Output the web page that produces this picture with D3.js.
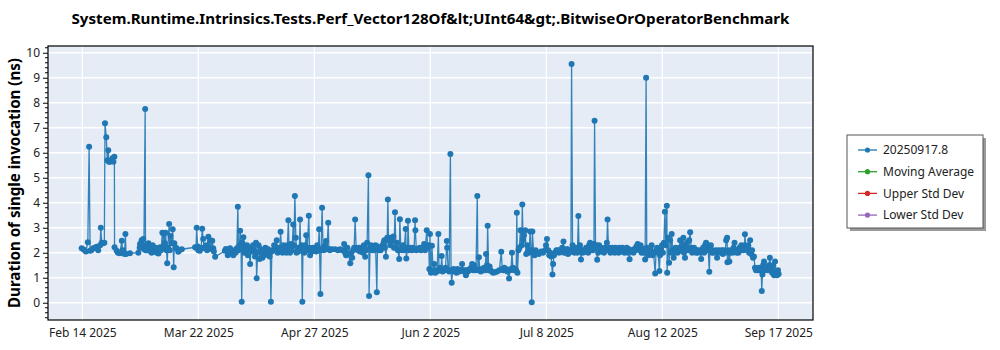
<!DOCTYPE html>
<html>
<head>
<meta charset="utf-8">
<script src="https://cdn.jsdelivr.net/npm/d3@7"></script>
<style>
  html, body { margin: 0; padding: 0; background: #ffffff; }
  svg { display: block; font-family: "Segoe UI", "Noto Sans", "Open Sans", sans-serif; }
</style>
</head>
<body>
<svg id="chart" width="1000" height="350"></svg>
<script>
// Benchmark run history: [days since Feb 14 2025, duration in ns]
const startDate = new Date(2025, 1, 14);
const samples = [
  [0.7,2.18],[1.4,2.12],[2.0,2.05],[2.6,2.42],[3.0,6.24],[3.3,2.08],[3.7,2.1],[4.3,2.18],[4.8,2.2],[5.3,2.24],
  [5.8,2.1],[6.4,2.3],[6.6,3.0],[6.9,2.4],[7.3,2.38],[7.7,2.4],[7.9,7.18],[8.3,6.62],[8.6,5.7],[8.9,6.1],
  [9.1,5.64],[9.4,5.64],[10.0,5.7],[10.2,5.78],[10.5,5.64],[10.8,5.84],[10.85,2.22],[11.5,2.08],[11.9,2.0],[12.2,2.0],
  [12.5,1.98],[13.1,2.48],[13.3,2.1],[13.5,2.08],[13.9,1.95],[14.2,2.75],[14.4,1.95],[15.6,1.98],[18.2,2.0],[18.6,2.2],
  [18.7,2.35],[19.2,2.5],[19.5,2.3],[19.7,2.55],[19.9,2.15],[20.3,7.75],[20.4,2.1],[20.8,2.1],[21.0,2.3],[21.3,2.38],
  [21.5,2.2],[21.8,2.24],[22.0,2.05],[22.3,2.0],[22.6,2.3],[22.8,2.18],[23.0,2.1],[23.3,2.08],[23.6,2.2],[23.9,2.0],
  [24.4,1.97],[24.9,2.22],[25.2,2.1],[25.6,2.8],[25.8,2.2],[26.1,2.76],[26.4,2.38],[26.6,2.8],[26.9,2.1],[27.1,1.58],
  [27.3,2.2],[27.7,3.15],[27.9,2.1],[28.1,2.67],[28.5,2.38],[28.8,2.94],[29.1,1.42],[29.3,2.38],[29.7,2.2],[30.0,2.18],
  [30.5,2.04],[30.9,2.1],[31.6,2.14],
  [35.7,2.22],[36.0,2.2],[36.2,3.0],[36.5,2.25],[36.7,2.1],[36.9,2.15],[37.2,2.08],[37.6,2.2],[37.9,2.96],[38.2,2.55],
  [38.5,2.2],[38.8,2.18],[39.1,2.3],[39.4,2.1],[39.8,2.64],[40.0,2.2],[40.3,2.5],[40.6,2.15],[41.0,2.48],[41.3,2.18],
  [41.5,2.05],[41.9,1.84],
  [44.9,2.08],[45.2,2.15],[45.8,1.9],[46.2,2.1],[46.5,2.18],[46.9,2.0],[47.5,1.9],[47.9,2.1],[48.2,2.0],[48.6,2.18],
  [48.9,3.84],[49.1,2.1],[49.4,2.3],[49.6,2.88],[49.9,2.2],[50.1,0.04],[50.3,2.4],[50.6,2.62],[50.8,2.0],[51.1,2.2],
  [51.4,2.1],[51.7,2.3],[52.0,1.9],[52.3,2.15],[52.7,1.55],[53.0,2.2],[53.3,2.05],[53.6,2.3],[53.9,2.1],[54.2,1.85],
  [54.5,2.4],[54.7,0.98],[55.0,2.0],[55.3,2.3],[55.6,1.75],[55.9,2.15],[56.2,2.0],[56.5,1.8],[56.8,2.1],[57.1,1.9],
  [57.4,2.2],[57.7,2.0],[58.1,2.15],[58.4,2.0],[58.7,1.85],[58.9,2.1],[59.1,0.04],[59.4,2.05],[59.8,2.1],[60.1,2.3],
  [60.4,2.2],[60.9,2.5],[61.2,2.0],[61.5,2.2],[61.8,2.1],[62.1,2.84],[62.4,2.1],[62.7,2.0],[63.0,2.3],[63.3,2.05],
  [63.6,2.2],[63.9,2.0],[64.2,2.3],[64.5,3.3],[64.7,2.2],[65.0,2.0],[65.3,2.35],[65.6,2.1],[66.0,3.13],[66.2,2.3],
  [66.5,4.27],[66.8,2.6],[67.0,2.0],[67.3,2.2],[67.6,2.05],[67.9,2.2],[68.1,3.33],[68.3,2.1],[68.6,2.3],[68.8,0.04],
  [69.0,2.2],[69.4,2.0],[69.7,2.3],[70.0,2.7],[70.3,2.1],[70.8,3.48],[71.0,2.2],[71.2,1.9],[71.5,2.15],[71.8,2.05],
  [72.1,2.2],[72.4,2.1],[72.8,2.14],[73.1,2.05],[73.4,2.3],[73.7,2.1],[74.0,2.94],[74.4,0.35],[74.6,2.1],[74.9,3.8],
  [75.2,2.2],[75.5,2.1],[75.8,2.3],[76.1,2.47],[76.4,2.15],[76.8,3.2],[77.0,2.15],[77.3,2.1],[77.9,2.14],[78.9,2.14],
  [79.8,2.1],[80.4,2.14],[81.1,2.1],[81.7,2.35],[82.0,2.0],[82.3,1.9],[82.7,2.2],[83.0,1.95],[83.6,1.58],[83.9,2.0],
  [84.2,1.8],[84.5,2.1],[84.8,2.2],[85.1,3.33],[85.4,2.2],[85.7,2.15],[86.0,2.1],[86.3,2.2],[86.6,2.05],[86.9,2.2],
  [87.2,2.1],[87.5,2.0],[87.8,2.3],[88.2,1.84],[88.5,2.1],[88.8,2.4],[89.2,5.1],[89.4,0.27],[89.7,2.2],[90.0,2.3],
  [90.3,2.1],[90.6,2.25],[90.9,2.1],[91.4,2.3],[91.8,0.42],[92.0,2.25],[92.3,2.1],[92.6,2.2],[93.0,2.1],[93.3,2.2],
  [93.6,2.3],[93.9,2.4],[94.1,2.5],[94.3,2.2],[94.6,1.84],[95.0,2.6],[95.2,4.13],[95.4,2.5],[95.7,2.6],[96.0,2.3],
  [96.3,2.6],[96.6,2.5],[96.9,2.65],[97.1,2.2],[97.4,3.62],[97.7,2.2],[98.0,2.4],[98.3,2.1],[98.7,1.75],[98.9,3.34],
  [99.2,2.2],[99.5,2.1],[99.9,2.3],[100.2,2.1],[100.7,2.95],[100.9,1.77],[101.3,2.2],[101.4,3.28],[101.7,2.1],[102.0,2.15],
  [102.3,2.2],[102.7,2.1],[103.0,2.2],[103.3,2.15],[103.6,3.3],[103.7,2.9],[104.0,2.1],[104.5,2.15],[105.0,2.2],[105.4,2.1],
  [105.9,2.2],[106.4,2.35],[106.7,2.1],[107.2,2.9],[107.5,2.2],[107.8,2.3],[108.0,1.35],[108.2,2.75],[108.4,1.3],[108.5,1.2],
  [108.8,2.28],[109.2,1.25],[109.5,1.55],[109.8,1.2],[110.1,1.3],[110.4,1.25],[110.8,2.75],[111.0,1.3],[111.3,1.4],[111.6,1.3],
  [111.8,1.87],[112.1,1.25],[112.4,1.3],[112.7,1.3],[113.0,1.4],[113.4,2.47],[113.5,2.2],[113.8,1.3],[114.1,1.25],[114.5,5.95],
  [114.7,1.3],[114.9,0.8],[115.2,1.3],[115.5,1.35],[115.8,1.25],[116.1,1.3],[116.4,1.2],[116.7,1.35],[117.0,1.3],[117.3,1.25],
  [117.6,1.3],[117.9,1.3],[118.1,1.55],[118.4,1.3],[118.7,1.25],[119.0,1.3],[119.3,1.1],[119.6,1.3],[119.9,1.25],[120.2,1.3],
  [120.5,1.35],[120.9,1.4],[121.2,1.55],[121.5,1.3],[121.8,1.5],[122.1,1.3],[122.4,1.35],[122.8,4.27],[123.0,1.3],[123.3,1.82],
  [123.6,1.3],[123.9,1.25],[124.2,1.35],[124.6,1.3],[124.9,1.4],[125.2,1.3],[125.5,1.95],[125.8,1.5],[126.0,3.08],[126.3,1.3],
  [126.6,1.45],[126.9,1.3],[127.2,1.25],[127.7,1.2],[128.3,1.22],[128.9,1.25],[129.6,1.3],[130.2,2.04],[130.5,1.35],[130.8,1.3],
  [131.1,1.4],[131.4,1.3],[131.7,1.35],[132.1,1.25],[132.6,0.97],[132.9,1.3],[133.2,1.35],[133.5,2.0],[133.8,1.4],[134.1,1.3],
  [134.4,1.35],[134.8,1.3],[135.0,3.6],[135.2,1.2],[135.5,2.1],[135.8,2.2],[136.1,2.9],[136.5,2.3],[136.7,3.93],[136.9,2.5],
  [137.2,2.7],[137.6,2.9],[137.9,1.95],[138.2,2.3],[138.5,2.1],[138.8,2.0],[139.1,2.85],[139.4,2.1],[139.6,0.02],[139.8,2.85],
  [140.2,2.0],[140.5,1.9],[140.8,2.1],[141.2,2.0],[141.8,1.95],[142.5,2.05],[143.1,2.0],[143.7,2.1],[144.0,2.3],[144.3,2.55],
  [144.7,2.1],[145.0,1.9],[145.3,2.0],[145.6,1.85],[146.0,1.13],[146.2,1.55],[146.5,1.9],[146.8,2.0],[147.2,2.1],[147.5,2.05],
  [147.8,2.1],[148.1,2.0],[148.4,2.1],[148.7,2.05],[149.0,2.2],[149.4,2.45],[149.6,2.0],[149.9,2.1],[150.2,2.0],[150.5,2.15],
  [150.8,1.95],[151.1,2.0],[151.4,2.1],[151.7,2.05],[151.9,9.55],[152.2,2.3],[152.5,2.1],[152.8,2.0],[153.1,2.2],[153.4,2.1],
  [153.7,2.0],[154.0,3.47],[154.2,2.2],[154.5,2.3],[154.8,1.73],[155.1,2.1],[155.4,2.0],[155.7,2.1],[156.1,2.05],[156.4,2.2],
  [156.7,2.1],[157.0,2.0],[157.3,2.3],[157.6,2.4],[157.9,2.1],[158.2,2.35],[158.5,2.1],[158.8,2.35],[159.0,7.28],[159.3,2.2],
  [159.6,2.3],[159.8,1.72],[160.1,2.0],[160.4,2.3],[160.7,2.1],[161.0,2.2],[161.3,2.05],[161.6,2.1],[161.9,2.0],[162.2,2.2],
  [162.5,2.1],[162.8,2.4],[163.0,3.33],[163.3,2.1],[163.6,2.2],[163.9,2.0],[164.2,2.05],[164.5,2.2],[164.8,2.1],[165.2,2.0],
  [165.5,2.2],[165.8,2.1],[166.1,2.15],[166.4,2.0],[166.7,2.2],[167.0,2.1],[167.3,2.05],[167.6,2.2],[167.9,2.1],[168.2,2.0],
  [168.5,2.1],[168.9,2.2],[169.2,2.0],[169.5,2.15],[169.8,1.74],[170.1,2.1],[170.4,2.05],[170.7,2.1],[171.0,2.0],[171.3,2.15],
  [171.6,2.1],[171.9,2.25],[172.3,2.35],[172.6,2.2],[172.9,2.1],[173.2,2.3],[173.5,2.0],[173.8,2.15],[174.1,2.0],[174.4,2.1],
  [174.6,1.73],[174.9,9.0],[175.1,2.2],[175.3,2.1],[175.6,1.9],[175.9,2.0],[176.3,2.1],[176.6,2.3],[176.9,1.9],[177.2,2.0],
  [177.7,1.17],[178.0,2.1],[178.3,2.2],[178.6,2.0],[179.0,1.27],[179.2,1.9],[179.5,2.1],[179.8,2.3],[180.1,2.0],[180.4,2.4],
  [180.7,3.64],[181.0,2.3],[181.3,3.88],[181.4,1.2],[181.6,2.6],[182.0,1.6],[182.3,2.5],[182.6,2.0],[182.8,2.75],[183.1,2.1],
  [183.4,1.8],[183.7,2.0],[184.0,2.2],[184.3,2.1],[184.6,2.0],[184.9,2.05],[185.2,2.2],[185.4,2.5],[185.7,2.1],[186.0,2.3],
  [186.4,2.6],[186.6,2.0],[186.9,1.8],[187.2,2.2],[187.5,2.4],[187.9,2.1],[188.2,2.5],[188.5,2.82],[188.8,2.2],[189.1,2.0],
  [189.4,2.1],[189.7,2.2],[190.0,2.1],[190.3,2.0],[190.6,2.1],[190.9,2.0],[191.2,2.1],[191.5,2.05],[191.9,1.75],[192.2,2.1],
  [192.5,2.2],[192.8,2.0],[193.1,2.3],[193.4,2.4],[193.7,2.1],[194.0,2.3],[194.4,1.24],[194.6,2.1],[194.9,2.3],[195.2,2.0],
  [195.5,2.1],[195.8,2.0],[196.2,2.05],[196.5,2.1],[196.8,1.8],[197.1,2.0],[197.4,2.1],[197.7,2.05],[198.0,2.0],[198.3,2.1],
  [198.6,1.95],[198.9,2.1],[199.3,2.0],[199.6,2.5],[199.9,2.6],[200.0,1.62],[200.3,2.1],[200.6,1.65],[200.9,2.0],[201.3,2.1],
  [201.6,2.0],[201.9,2.2],[202.2,2.4],[202.5,2.1],[202.8,2.0],[203.1,2.1],[203.4,2.0],[203.7,2.2],[204.0,2.1],[204.3,2.3],
  [204.6,2.2],[204.9,2.1],[205.3,2.3],[205.4,2.74],[205.7,2.2],[206.1,2.1],[206.4,2.3],[206.7,2.0],[207.0,2.5],[207.3,1.95],
  [207.6,2.1],[207.9,1.8],[208.2,1.85],[208.5,1.4],[208.8,1.3],[209.1,1.35],[209.4,1.3],[209.7,1.4],[210.1,1.3],[210.4,1.35],
  [210.6,0.47],[210.8,1.13],[211.0,1.5],[211.3,1.65],[211.6,1.3],[211.9,1.4],[212.2,1.35],[212.5,1.3],[212.8,1.5],[213.1,1.8],
  [213.5,1.35],[213.8,1.2],[214.1,1.5],[214.4,1.1],[214.7,1.65],[215.0,1.2],[215.3,1.1],[215.6,1.3],[215.8,1.15]
];

// Axis ticks
const yTickValues = [0, 1, 2, 3, 4, 5, 6, 7, 8, 9, 10];
const xTickDays = [0.9, 36.7, 72.5, 108.3, 144.1, 179.9, 215.7];
const xTickLabels = ["Feb 14 2025", "Mar 22 2025", "Apr 27 2025", "Jun 2 2025", "Jul 8 2025", "Aug 12 2025", "Sep 17 2025"];

// Legend entries
const legendNames = ["20250917.8", "Moving Average", "Upper Std Dev", "Lower Std Dev"];
const legendColors = ["#1f77b4", "#2ca02c", "#d62728", "#9467bd"];

const titleText = "System.Runtime.Intrinsics.Tests.Perf_Vector128Of&lt;UInt64&gt;.BitwiseOrOperatorBenchmark";
const yAxisTitle = "Duration of single invocation (ns)";

const dayMs = 24 * 3600 * 1000;
const toDate = d => new Date(startDate.getTime() + d * dayMs);

const svg = d3.select("#chart");
const plot = { left: 48, top: 46, right: 813, bottom: 320 };

const x = d3.scaleTime()
  .domain([toDate(-9.69), toDate(226.41)])
  .range([plot.left, plot.right]);
const y = d3.scaleLinear()
  .domain([-0.69, 10.27])
  .range([plot.bottom, plot.top]);

// Plot background
svg.append("rect")
  .attr("x", plot.left).attr("y", plot.top)
  .attr("width", plot.right - plot.left).attr("height", plot.bottom - plot.top)
  .attr("fill", "#e5ecf6");

// Grid lines
const grid = svg.append("g");
grid.selectAll("line.h").data(yTickValues).join("line")
  .attr("x1", plot.left).attr("x2", plot.right)
  .attr("y1", d => y(d)).attr("y2", d => y(d))
  .attr("stroke", "#ffffff").attr("stroke-width", 1.3);
grid.selectAll("line.v").data(xTickDays).join("line")
  .attr("y1", plot.top).attr("y2", plot.bottom)
  .attr("x1", d => x(toDate(d))).attr("x2", d => x(toDate(d)))
  .attr("stroke", "#ffffff").attr("stroke-width", 1.3);

// Clip series to the plot area
svg.append("clipPath").attr("id", "plotClip")
  .append("rect")
  .attr("x", plot.left).attr("y", plot.top)
  .attr("width", plot.right - plot.left).attr("height", plot.bottom - plot.top);

const series = svg.append("g").attr("clip-path", "url(#plotClip)");
const line = d3.line()
  .x(d => x(toDate(d[0])))
  .y(d => y(d[1]));

series.append("path")
  .datum(samples)
  .attr("d", line)
  .attr("fill", "none")
  .attr("stroke", "#1f77b4")
  .attr("stroke-opacity", 0.9)
  .attr("stroke-width", 1.3);

series.selectAll("circle").data(samples).join("circle")
  .attr("cx", d => x(toDate(d[0])))
  .attr("cy", d => y(d[1]))
  .attr("r", 3)
  .attr("fill", "#1f77b4");

// Plot frame
svg.append("rect")
  .attr("x", plot.left).attr("y", plot.top)
  .attr("width", plot.right - plot.left).attr("height", plot.bottom - plot.top)
  .attr("fill", "none").attr("stroke", "#000").attr("stroke-width", 1.2);

// Y axis with minor ticks every 0.2
const minorTicks = d3.range(-6, 103, 2).map(v => v / 10).filter(v => Math.abs(v - Math.round(v)) > 1e-6);
svg.append("g").selectAll("line").data(minorTicks).join("line")
  .attr("x1", plot.left - 3).attr("x2", plot.left)
  .attr("y1", d => y(d)).attr("y2", d => y(d))
  .attr("stroke", "#000").attr("stroke-width", 1);

const yAxis = svg.append("g")
  .attr("transform", `translate(${plot.left},0)`)
  .call(d3.axisLeft(y).tickValues(yTickValues).tickSize(5).tickPadding(3).tickFormat(d3.format("d")));
yAxis.select(".domain").remove();
yAxis.selectAll("line").attr("stroke", "#000");
yAxis.selectAll("text").attr("font-size", 12).attr("fill", "#222")
  .attr("font-family", "'Segoe UI', 'Noto Sans', sans-serif");

// X axis labels (no tick marks)
const xAxis = svg.append("g")
  .attr("transform", `translate(0,${plot.bottom})`)
  .call(d3.axisBottom(x)
    .tickValues(xTickDays.map(toDate))
    .tickSize(0).tickPadding(8)
    .tickFormat((d, i) => xTickLabels[i]));
xAxis.select(".domain").remove();
xAxis.selectAll("text").attr("font-size", 12).attr("fill", "#222")
  .attr("font-family", "'Segoe UI', 'Noto Sans', sans-serif");

// Title
svg.append("text")
  .attr("x", (plot.left + plot.right) / 2).attr("y", 24)
  .attr("text-anchor", "middle")
  .attr("font-size", 15).attr("font-weight", "bold").attr("fill", "#000")
  .attr("textLength", 718).attr("lengthAdjust", "spacingAndGlyphs")
  .text(titleText);

// Y axis title
svg.append("text")
  .attr("transform", `translate(20,${(plot.top + plot.bottom) / 2}) rotate(-90)`)
  .attr("text-anchor", "middle")
  .attr("font-size", 16).attr("font-weight", "bold").attr("fill", "#000")
  .attr("textLength", 250).attr("lengthAdjust", "spacingAndGlyphs")
  .text(yAxisTitle);

// Legend
const legend = svg.append("g").attr("transform", "translate(847,135)");
legend.append("rect").attr("x", 3).attr("y", 3).attr("width", 136).attr("height", 93).attr("fill", "#9a9a9a");
legend.append("rect").attr("x", 0).attr("y", 0).attr("width", 136).attr("height", 93)
  .attr("fill", "#ffffff").attr("stroke", "#555").attr("stroke-width", 1);
const items = legend.selectAll("g.item").data(legendNames).join("g")
  .attr("transform", (d, i) => `translate(0,${15 + i * 21.7})`);
items.append("line").attr("x1", 11).attr("x2", 30).attr("y1", 0).attr("y2", 0)
  .attr("stroke", (d, i) => legendColors[i]).attr("stroke-width", 1.3);
items.append("circle").attr("cx", 20.5).attr("cy", 0).attr("r", 2.6)
  .attr("fill", (d, i) => legendColors[i]);
items.append("text").attr("x", 36).attr("y", 0).attr("dy", "0.35em")
  .attr("font-size", 12).attr("fill", "#222")
  .attr("font-family", "'Segoe UI', 'Noto Sans', sans-serif")
  .text(d => d);
</script>
</body>
</html>
